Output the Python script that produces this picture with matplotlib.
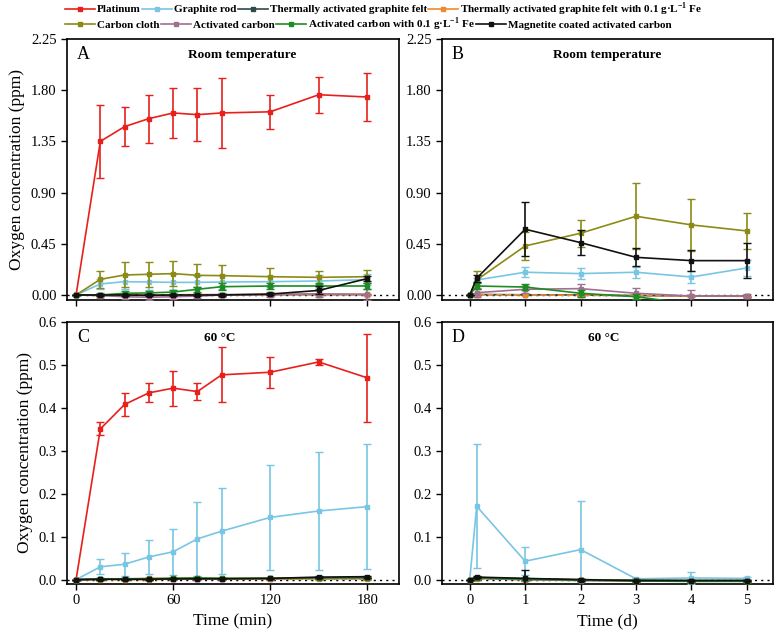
import numpy as np
import matplotlib
matplotlib.use('Agg')
import matplotlib.pyplot as plt
from matplotlib.lines import Line2D

plt.rcParams['font.family'] = ['Liberation Serif', 'DejaVu Serif']
plt.rcParams['mathtext.fontset'] = 'custom'
plt.rcParams['mathtext.rm'] = 'Liberation Serif'
plt.rcParams['mathtext.bf'] = 'Liberation Serif:bold'

# time axes
t_min = [0, 15, 30, 45, 60, 75, 90, 120, 150, 180]
t_day = [0, 0.125, 1, 2, 3, 4, 5]

names = ['Platinum', 'Graphite rod', 'Thermally activated graphite felt',
         r'Thermally activated graphite felt with 0.1 g·L$^{\mathbf{-1}}$ Fe',
         'Carbon cloth', 'Activated carbon',
         r'Activated carbon with 0.1 g·L$^{\mathbf{-1}}$ Fe',
         'Magnetite coated activated carbon']
colors = ['#e8201c', '#78c6e4', '#2f4a48', '#f0892e',
          '#8c8a14', '#a07090', '#1c8c24', '#111111']

# panel A - room temperature, minutes
pt_a = [0, 1.35, 1.48, 1.55, 1.60, 1.585, 1.60, 1.61, 1.76, 1.74]
pt_a_err = [0, 0.32, 0.17, 0.21, 0.22, 0.235, 0.305, 0.148, 0.16, 0.21]
gr_a = [0, 0.097, 0.117, 0.114, 0.111, 0.111, 0.114, 0.117, 0.123, 0.135]
gr_a_err = [0, 0.04, 0.06, 0.07, 0.07, 0.06, 0.06, 0.05, 0.05, 0.05]
tg_a = [0, 0.001, 0.002, 0.001, 0.002, 0.002, 0.003, 0.003, 0.004, 0.004]
tg_a_err = [0, 0.005, 0.005, 0.005, 0.005, 0.005, 0.005, 0.005, 0.005, 0.005]
tf_a = [0, 0.0, 0.001, 0.001, 0.001, 0.002, 0.002, 0.002, 0.002, 0.003]
tf_a_err = [0, 0.004, 0.004, 0.004, 0.004, 0.004, 0.004, 0.004, 0.004, 0.004]
cc_a = [0, 0.138, 0.176, 0.182, 0.188, 0.173, 0.17, 0.161, 0.155, 0.161]
cc_a_err = [0, 0.075, 0.11, 0.11, 0.11, 0.10, 0.095, 0.08, 0.06, 0.055]
ac_a = [0, -0.005, -0.015, -0.02, -0.015, -0.01, 0.0, 0.005, 0.01, 0.005]
ac_a_err = [0, 0.02, 0.02, 0.025, 0.02, 0.02, 0.02, 0.02, 0.03, 0.05]
af_a = [0, 0.0, 0.015, 0.018, 0.026, 0.05, 0.073, 0.079, 0.079, 0.079]
af_a_err = [0, 0.01, 0.02, 0.02, 0.02, 0.02, 0.03, 0.03, 0.03, 0.03]
mg_a = [0, 0.0, 0.0, -0.003, 0.0, 0.0, 0.0, 0.008, 0.04, 0.144]
mg_a_err = [0, 0.01, 0.01, 0.01, 0.01, 0.01, 0.01, 0.01, 0.035, 0.02]

# panel B - room temperature, days
gr_b = [0, 0.132, 0.2, 0.188, 0.2, 0.158, 0.238]
gr_b_err = [0, 0.02, 0.045, 0.045, 0.05, 0.05, 0.07]
tg_b = [0, 0.004, 0.002, 0.0, -0.005, -0.008, -0.01]
tg_b_err = [0, 0.005, 0.005, 0.005, 0.005, 0.005, 0.005]
tf_b = [0, 0.003, 0.001, -0.002, -0.006, -0.01, -0.012]
tf_b_err = [0, 0.004, 0.004, 0.004, 0.004, 0.004, 0.004]
cc_b = [0, 0.132, 0.431, 0.543, 0.692, 0.616, 0.563]
cc_b_err = [0, 0.08, 0.12, 0.12, 0.29, 0.23, 0.16]
ac_b = [0, 0.02, 0.05, 0.056, 0.015, -0.009, -0.009]
ac_b_err = [0, 0.04, 0.03, 0.04, 0.05, 0.05, 0.02]
af_b = [0, 0.079, 0.07, 0.015, -0.015, -0.08, -0.08]
af_b_err = [0, 0.03, 0.03, 0.03, 0.02, 0.02, 0.02]
mg_b = [0, 0.147, 0.578, 0.46, 0.331, 0.302, 0.302]
mg_b_err = [0, 0.03, 0.235, 0.11, 0.08, 0.09, 0.155]

# panel C - 60 °C, minutes
pt_c = [0, 0.351, 0.408, 0.435, 0.446, 0.438, 0.477, 0.483, 0.507, 0.47]
pt_c_err = [0, 0.015, 0.026, 0.022, 0.041, 0.019, 0.064, 0.036, 0.007, 0.102]
gr_c = [0, 0.03, 0.036, 0.053, 0.065, 0.095, 0.113, 0.145, 0.16, 0.17]
gr_c_err = [0, 0.017, 0.027, 0.04, 0.054, 0.086, 0.1, 0.122, 0.137, 0.145]
tg_c = [0, 0.001, 0.001, 0.001, 0.002, 0.002, 0.002, 0.002, 0.003, 0.003]
tg_c_err = [0, 0.001, 0.001, 0.001, 0.001, 0.001, 0.001, 0.001, 0.001, 0.001]
tf_c = [0, 0.0, 0.0, 0.0, 0.001, 0.001, 0.001, 0.001, 0.001, 0.001]
tf_c_err = [0, 0.001, 0.001, 0.001, 0.001, 0.001, 0.001, 0.001, 0.001, 0.001]
cc_c = [0, 0.002, 0.002, 0.003, 0.003, 0.004, 0.003, 0.003, 0.004, 0.004]
cc_c_err = [0, 0.002, 0.002, 0.002, 0.002, 0.002, 0.002, 0.002, 0.002, 0.002]
ac_c = [0, 0.001, 0.001, 0.002, 0.002, 0.002, 0.002, 0.003, 0.003, 0.003]
ac_c_err = [0, 0.001, 0.001, 0.001, 0.001, 0.001, 0.001, 0.001, 0.001, 0.001]
af_c = [0, 0.002, 0.002, 0.002, 0.003, 0.004, 0.003, 0.003, 0.004, 0.005]
af_c_err = [0, 0.002, 0.002, 0.002, 0.002, 0.002, 0.002, 0.002, 0.002, 0.002]
mg_c = [0, 0.001, 0.001, 0.001, 0.002, 0.002, 0.002, 0.003, 0.006, 0.007]
mg_c_err = [0, 0.001, 0.001, 0.001, 0.001, 0.001, 0.001, 0.001, 0.002, 0.002]

# panel D - 60 °C, days
gr_d = [0, 0.171, 0.043, 0.07, 0.002, 0.004, 0.003]
gr_d_err = [0, 0.144, 0.032, 0.113, 0.002, 0.014, 0.003]
tg_d = [0, 0.004, 0.002, 0.0, -0.001, -0.002, -0.002]
tg_d_err = [0, 0.002, 0.002, 0.002, 0.002, 0.002, 0.002]
tf_d = [0, 0.002, 0.0, -0.001, -0.002, -0.002, -0.002]
tf_d_err = [0, 0.002, 0.002, 0.002, 0.002, 0.002, 0.002]
cc_d = [0, 0.005, 0.002, 0.0, -0.002, -0.003, -0.003]
cc_d_err = [0, 0.002, 0.002, 0.002, 0.002, 0.002, 0.002]
ac_d = [0, 0.003, 0.0, -0.002, -0.003, -0.003, -0.003]
ac_d_err = [0, 0.002, 0.002, 0.002, 0.002, 0.002, 0.002]
af_d = [0, 0.004, 0.001, -0.001, -0.003, -0.004, -0.004]
af_d_err = [0, 0.002, 0.002, 0.002, 0.002, 0.002, 0.002]
mg_d = [0, 0.006, 0.003, 0.0, -0.002, -0.002, -0.002]
mg_d_err = [0, 0.002, 0.019, 0.002, 0.002, 0.002, 0.002]


def draw(ax, t, series):
    # series: list of (index, y, err); orange drawn dashed
    for i, y, e in series:
        ls = '--' if i == 3 else '-'
        ax.errorbar(t, y, yerr=e, color=colors[i], ls=ls, lw=1.2,
                    marker='s', ms=3.5, capsize=3, elinewidth=1.2,
                    capthick=1.0, zorder=3 + i * 0.1)
    ax.axhline(0, color='black', ls=(0, (1.5, 3)), lw=1.0, zorder=2.5)


def style(ax, letter, title, tx):
    for s in ax.spines.values():
        s.set_linewidth(1.2)
    ax.tick_params(direction='out', length=4, width=1.0, labelsize=10.5,
                   top=False, right=False)
    ax.text(0.03, 0.94, letter, transform=ax.transAxes, fontsize=13,
            va='center', ha='left')
    ax.text(tx, 0.94, title, transform=ax.transAxes, fontsize=9.5,
            fontweight='bold', va='center', ha='center')


fig = plt.figure(figsize=(7.8, 6.36), dpi=100)
axA = fig.add_axes([0.0859, 0.5283, 0.4256, 0.4104])
axB = fig.add_axes([0.5667, 0.5283, 0.4243, 0.4104])
axC = fig.add_axes([0.0859, 0.0818, 0.4256, 0.4119])
axD = fig.add_axes([0.5667, 0.0818, 0.4243, 0.4119])

draw(axA, t_min, [(0, pt_a, pt_a_err), (1, gr_a, gr_a_err), (2, tg_a, tg_a_err),
                  (3, tf_a, tf_a_err), (4, cc_a, cc_a_err), (5, ac_a, ac_a_err),
                  (6, af_a, af_a_err), (7, mg_a, mg_a_err)])
draw(axB, t_day, [(1, gr_b, gr_b_err), (2, tg_b, tg_b_err), (3, tf_b, tf_b_err),
                  (4, cc_b, cc_b_err), (5, ac_b, ac_b_err), (6, af_b, af_b_err),
                  (7, mg_b, mg_b_err)])
draw(axC, t_min, [(0, pt_c, pt_c_err), (1, gr_c, gr_c_err), (2, tg_c, tg_c_err),
                  (4, cc_c, cc_c_err), (5, ac_c, ac_c_err), (6, af_c, af_c_err),
                  (7, mg_c, mg_c_err), (3, tf_c, tf_c_err)])
draw(axD, t_day, [(1, gr_d, gr_d_err), (2, tg_d, tg_d_err), (4, cc_d, cc_d_err),
                  (5, ac_d, ac_d_err), (6, af_d, af_d_err), (7, mg_d, mg_d_err),
                  (3, tf_d, tf_d_err)])

for ax in (axA, axC):
    ax.set_xlim(-5.6, 199.6)
    ax.set_xticks([0, 60, 120, 180])
for ax in (axB, axD):
    ax.set_xlim(-0.5, 5.47)
    ax.set_xticks([0, 1, 2, 3, 4, 5])
for ax in (axA, axB):
    ax.set_ylim(-0.044, 2.25)
    ax.set_yticks([0, 0.45, 0.9, 1.35, 1.8, 2.25])
    ax.set_yticklabels(['0.00', '0.45', '0.90', '1.35', '1.80', '2.25'])
    ax.set_xticklabels([])
for ax in (axC, axD):
    ax.set_ylim(-0.01, 0.6)
    ax.set_yticks([0, 0.1, 0.2, 0.3, 0.4, 0.5, 0.6])

style(axA, 'A', 'Room temperature', 0.527)
style(axB, 'B', 'Room temperature', 0.50)
style(axC, 'C', '60 °C', 0.46)
style(axD, 'D', '60 °C', 0.487)

axA.set_ylabel('Oxygen concentration (ppm)', fontsize=12.5)
axC.set_ylabel('Oxygen concentration (ppm)', fontsize=12.5)
axC.set_xlabel('Time (min)', fontsize=12.5)
axD.set_xlabel('Time (d)', fontsize=12.5)

handles = [Line2D([], [], color=c, ls='-', lw=1.2, marker='s', ms=3)
           for c in colors]
kw = dict(frameon=False, ncol=4, handlelength=2.7, handletextpad=0.2,
          columnspacing=0.1, borderpad=0, borderaxespad=0,
          prop={'weight': 'bold', 'size': 8}, loc='center left')
fig.legend(handles[:4], names[:4], bbox_to_anchor=(0.083, 0.986), **kw)
fig.legend(handles[4:], names[4:], bbox_to_anchor=(0.083, 0.961), **kw)

fig.savefig('out.png', dpi=100)
